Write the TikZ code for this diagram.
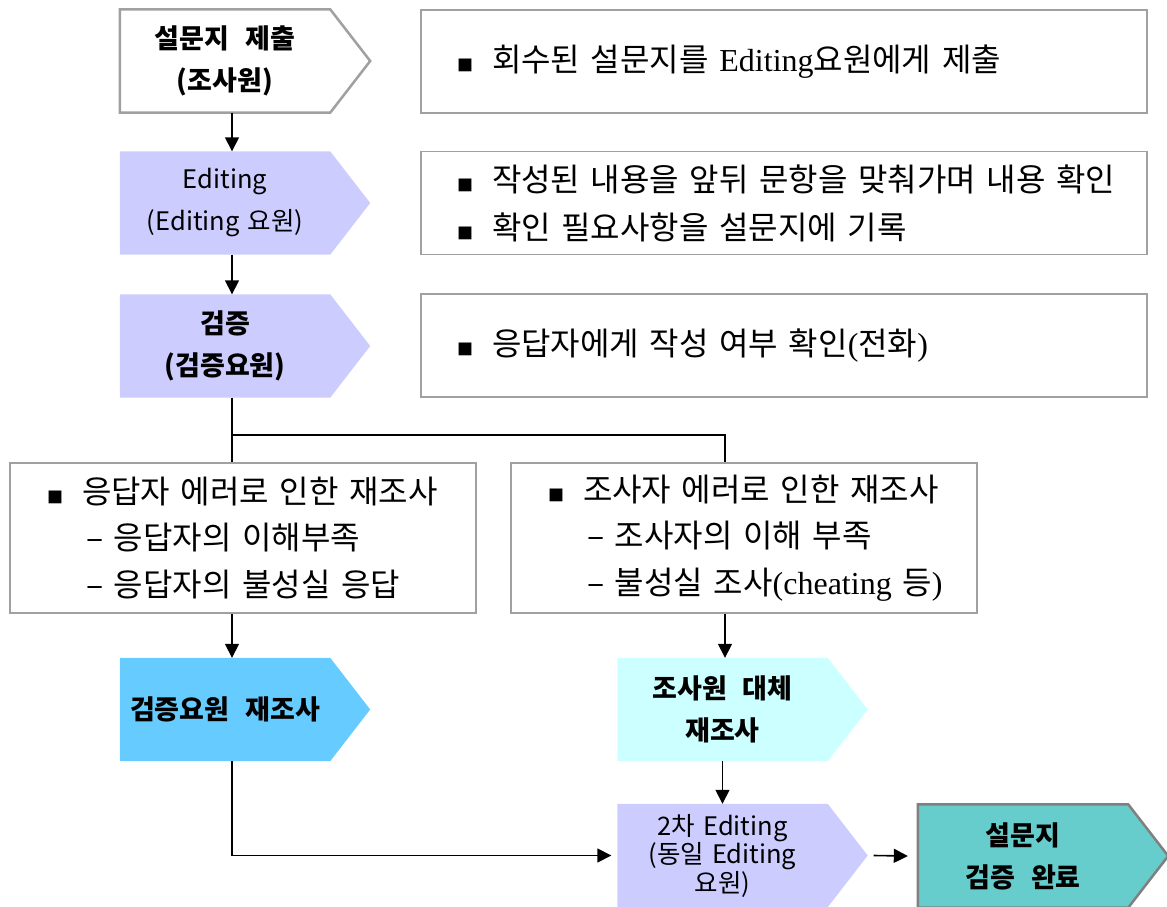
\documentclass[tikz,border=0pt]{standalone}
\usepackage{fontspec}
\usepackage{tikz}
\usetikzlibrary{arrows.meta,backgrounds}
\setmainfont{Noto Sans CJK KR}[WordSpace=2.6]
\newfontfamily\krtight{Noto Sans CJK KR}[WordSpace=1.4]
\newfontfamily\lat{Liberation Serif}[WordSpace=1.5]
\definecolor{lavender}{HTML}{CCCCFF}
\definecolor{skyblue}{HTML}{66CCFF}
\definecolor{palecyan}{HTML}{CCFFFF}
\definecolor{tealbox}{HTML}{66CCCC}
\definecolor{framegray}{HTML}{A0A0A0}
\newcommand\bul{\makebox[35pt][l]{\fontsize{16pt}{16pt}\selectfont ■}}
\newcommand\chev[2]{\path[#2] (#1.north west) -- (#1.north east) -- ([xshift=40pt]#1.east) -- (#1.south east) -- (#1.south west) -- cycle;}

\begin{document}
\begin{tikzpicture}[x=1pt, y=-1pt,
    chevron/.style = {minimum width=210pt, minimum height=103pt, inner sep=0pt, align=center,
                      font=\bfseries\fontsize{27pt}{42pt}\selectfont},
    note/.style = {draw=framegray, line width=1.5pt, minimum width=726pt, minimum height=103pt,
                   inner xsep=0pt, text width=654pt, align=left, font=\fontsize{32pt}{48pt}\selectfont},
    retry/.style = {draw=framegray, line width=1.5pt, minimum width=466pt, minimum height=150pt,
                    inner xsep=0pt, text width=392pt, align=left, font=\fontsize{32pt}{46.5pt}\selectfont},
    arr/.style = {line width=1.6pt, -{Triangle[width=14pt, length=14pt]}},
    link/.style = {line width=1.6pt}]
  \useasboundingbox (0,0) rectangle (1167,907);

  \node [chevron] (S1) at (225,61) {설문지 제출\\(조사원)};
  \node [chevron, font=\krtight\fontsize{25.5pt}{42pt}\selectfont] (S2) at (225,203) {Editing\\(Editing 요원)};
  \node [chevron] (S3) at (225,346) {검증\\(검증요원)};
  \node [chevron] (S4) at (225,709.5) {검증요원 재조사};
  \node [chevron] (S5) at (722.5,709.5) {조사원 대체\\재조사};
  \node [chevron, font=\krtight\fontsize{25.5pt}{26pt}\selectfont] (S6) at (722.5,855.5) {2차 Editing\\(동일 Editing\\요원)};
  \node [chevron] (S7) at (1023,856) {설문지\\검증 완료};

  \node [note] (R1) at (784,61.5) {\mbox{\bul 회수된 설문지를 {\lat Editing}요원에게 제출}};
  \node [note] (R2) at (784,203) {\mbox{\bul 작성된 내용을 앞뒤 문항을 맞춰가며 내용 확인}\\
                                  \mbox{\bul 확인 필요사항을 설문지에 기록}};
  \node [note] (R3) at (784,345.5) {\mbox{\bul 응답자에게 작성 여부 확인{\lat (}전화{\lat )}}};

  \node [retry] (E1) at (243,538) {\mbox{\bul 응답자 에러로 인한 재조사}\\
                                   \mbox{\hspace*{39pt}– 응답자의 이해부족}\\
                                   \mbox{\hspace*{39pt}– 응답자의 불성실 응답}};
  \node [retry] (E2) at (744,538) {\mbox{\bul 조사자 에러로 인한 재조사}\\
                                   \mbox{\hspace*{39pt}– 조사자의 이해 부족}\\
                                   \mbox{\hspace*{39pt}– 불성실 조사{\lat (cheating} 등{\lat )}}};

  \coordinate (colL) at (232,0);
  \coordinate (colR) at (725,0);
  \coordinate (fork) at (0,435);

  \begin{scope}[on background layer]
    \chev{S1}{draw=framegray, line width=2.5pt, fill=white}
    \chev{S2}{fill=lavender}
    \chev{S3}{fill=lavender}
    \chev{S4}{fill=skyblue}
    \chev{S5}{fill=palecyan}
    \chev{S6}{fill=lavender}
    \chev{S7}{draw=gray, line width=2.5pt, fill=tealbox}
  \end{scope}

  \draw [arr] (S1.south -| colL) -- (S2.north -| colL);
  \draw [arr] (S2.south -| colL) -- (S3.north -| colL);
  \draw [link] (S3.south -| colL) -- (E1.north -| colL);
  \draw [link] (fork -| colL) -- (fork -| colR) -- (E2.north -| colR);
  \draw [arr] (E1.south -| colL) -- (S4.north -| colL);
  \draw [arr] (E2.south -| colR) -- (S5.north -| colR);
  \draw [arr] (S5.south) -- (S6.north);
  \draw [arr, shorten >=6pt] (S4.south -| colL) |- (S6.west);
  \draw [arr] ([xshift=46pt]S6.east) -- ([xshift=-10pt]S7.west);
\end{tikzpicture}
\end{document}
